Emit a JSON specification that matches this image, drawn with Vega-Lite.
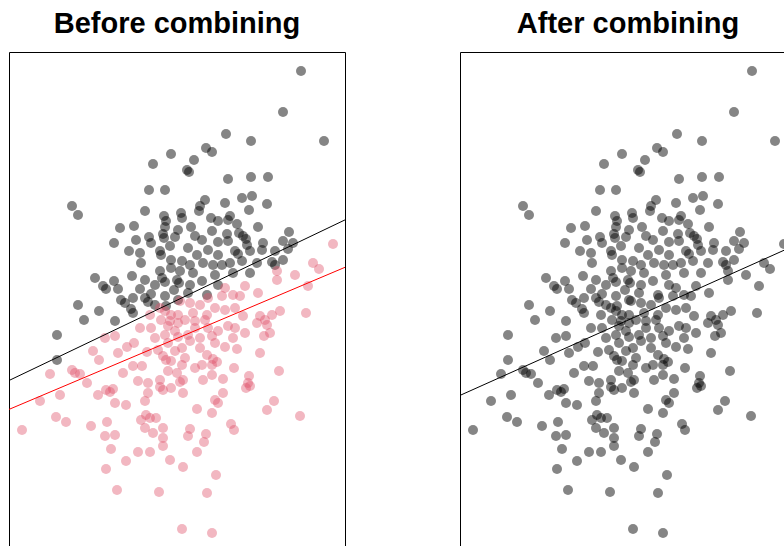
{
  "$schema": "https://vega.github.io/schema/vega-lite/v6.json",
  "padding": {"left": 8, "top": 9, "right": 0, "bottom": 0},
  "spacing": 113,
  "config": {
    "view": {"stroke": "#000000", "strokeWidth": 1},
    "title": {"font": "Liberation Sans", "fontSize": 29, "fontWeight": "bold", "color": "#000000", "offset": 13, "anchor": "middle"}
  },
  "datasets": {
    "points": [
      {"group":"A","x":12.4,"y":23.2},{"group":"A","x":10.6,"y":19.1},{"group":"A","x":4.9,"y":16.9},{"group":"A","x":7.4,"y":16.2},{"group":"A","x":14.7,"y":16.2},
      {"group":"A","x":2.9,"y":15.5},{"group":"A","x":3.5,"y":15.1},{"group":"A","x":-0.6,"y":14.9},{"group":"A","x":-2.4,"y":13.9},{"group":"A","x":1.7,"y":14.3},
      {"group":"A","x":1.0,"y":13.3},{"group":"A","x":1.2,"y":13.1},{"group":"A","x":-2.8,"y":11.3},{"group":"A","x":-1.2,"y":11.3},{"group":"A","x":5.1,"y":12.4},
      {"group":"A","x":7.4,"y":12.6},{"group":"A","x":9.1,"y":12.6},{"group":"A","x":-10.5,"y":9.7},{"group":"A","x":-9.9,"y":8.8},{"group":"A","x":-3.2,"y":9.2},
      {"group":"A","x":2.8,"y":10.3},{"group":"A","x":6.5,"y":10.5},{"group":"A","x":7.5,"y":10.7},{"group":"A","x":2.3,"y":9.7},{"group":"A","x":2.2,"y":9.2},
      {"group":"A","x":7.2,"y":9.3},{"group":"A","x":9.0,"y":9.9},{"group":"A","x":0.4,"y":9.0},{"group":"A","x":0.5,"y":8.5},{"group":"A","x":-1.3,"y":8.7},
      {"group":"A","x":-1.1,"y":8.2},{"group":"A","x":-1.2,"y":7.6},{"group":"A","x":-5.7,"y":7.5},{"group":"A","x":-4.3,"y":7.7},{"group":"A","x":3.4,"y":8.5},
      {"group":"A","x":4.1,"y":8.2},{"group":"A","x":5.1,"y":8.3},{"group":"A","x":6.0,"y":7.9},{"group":"A","x":1.4,"y":7.6},{"group":"A","x":8.1,"y":7.6},
      {"group":"A","x":0.1,"y":7.3},{"group":"A","x":3.5,"y":7.2},{"group":"A","x":5.0,"y":6.9},{"group":"A","x":6.2,"y":7.0},{"group":"A","x":6.6,"y":6.7},
      {"group":"A","x":6.9,"y":6.4},{"group":"A","x":1.8,"y":6.7},{"group":"A","x":2.5,"y":6.3},{"group":"A","x":4.1,"y":6.1},{"group":"A","x":5.1,"y":6.2},
      {"group":"A","x":7.0,"y":5.8},{"group":"A","x":8.6,"y":6.0},{"group":"A","x":10.6,"y":6.2},{"group":"A","x":11.2,"y":7.1},{"group":"A","x":11.6,"y":6.0},
      {"group":"A","x":1.1,"y":5.5},{"group":"A","x":3.1,"y":5.3},{"group":"A","x":-1.4,"y":6.9},{"group":"A","x":-1.3,"y":6.5},{"group":"A","x":-0.2,"y":6.6},
      {"group":"A","x":-6.3,"y":6.0},{"group":"A","x":-4.1,"y":6.3},{"group":"A","x":-2.8,"y":6.6},{"group":"A","x":-2.6,"y":6.0},{"group":"A","x":-4.8,"y":5.2},
      {"group":"A","x":-1.7,"y":5.2},{"group":"A","x":-1.6,"y":4.8},{"group":"A","x":-3.6,"y":4.0},{"group":"A","x":-0.6,"y":4.3},{"group":"A","x":-8.2,"y":2.5},
      {"group":"A","x":-7.4,"y":1.7},{"group":"A","x":-7.1,"y":1.4},{"group":"A","x":-6.3,"y":2.2},{"group":"A","x":-5.9,"y":1.4},{"group":"A","x":-4.5,"y":2.7},
      {"group":"A","x":-3.2,"y":2.3},{"group":"A","x":-3.7,"y":1.4},{"group":"A","x":-2.2,"y":1.8},{"group":"A","x":-1.5,"y":2.5},{"group":"A","x":-1.2,"y":2.1},
      {"group":"A","x":-0.6,"y":3.5},{"group":"A","x":-1.7,"y":3.2},{"group":"A","x":-9.9,"y":-0.2},{"group":"A","x":-7.8,"y":-0.8},{"group":"A","x":-9.3,"y":-1.7},
      {"group":"A","x":-6.2,"y":-1.8},{"group":"A","x":-5.6,"y":0.3},{"group":"A","x":-5.2,"y":0.0},{"group":"A","x":-4.6,"y":-0.6},{"group":"A","x":-4.4,"y":-1.0},
      {"group":"A","x":-4.4,"y":0.5},{"group":"A","x":-3.2,"y":0.5},{"group":"A","x":-2.9,"y":0.1},{"group":"A","x":-2.6,"y":0.9},{"group":"A","x":-1.2,"y":0.7},
      {"group":"A","x":-2.2,"y":-0.2},{"group":"A","x":-1.1,"y":-0.3},{"group":"A","x":-12.0,"y":-3.2},{"group":"A","x":-12.0,"y":-5.7},{"group":"A","x":0.0,"y":2.3},
      {"group":"A","x":0.2,"y":2.0},{"group":"A","x":-0.3,"y":1.3},{"group":"A","x":2.0,"y":4.8},{"group":"A","x":4.1,"y":4.8},{"group":"A","x":5.8,"y":5.2},
      {"group":"A","x":6.1,"y":4.9},{"group":"A","x":7.3,"y":5.2},{"group":"A","x":8.5,"y":5.3},{"group":"A","x":9.8,"y":5.2},{"group":"A","x":0.5,"y":4.2},
      {"group":"A","x":2.6,"y":4.0},{"group":"A","x":3.6,"y":3.8},{"group":"A","x":5.3,"y":4.0},{"group":"A","x":6.5,"y":4.2},{"group":"A","x":9.5,"y":4.1},
      {"group":"A","x":9.8,"y":3.8},{"group":"A","x":10.6,"y":4.3},{"group":"A","x":0.3,"y":3.2},{"group":"A","x":1.6,"y":3.0},{"group":"A","x":3.8,"y":2.8},
      {"group":"A","x":5.6,"y":3.0},{"group":"A","x":1.3,"y":1.8},{"group":"A","x":2.5,"y":2.2},{"group":"A","x":4.1,"y":1.8},{"group":"A","x":1.1,"y":1.0},
      {"group":"A","x":3.0,"y":0.8},{"group":"A","x":0.1,"y":0.3},{"group":"A","x":11.1,"y":5.4},{"group":"A","x":8.0,"y":4.0},{"group":"A","x":5.3,"y":8.7},
      {"group":"A","x":4.8,"y":10.0},{"group":"A","x":-0.7,"y":5.7},{"group":"A","x":-3.7,"y":5.0},{"group":"A","x":1.3,"y":3.8},{"group":"A","x":4.5,"y":3.8},
      {"group":"A","x":7.3,"y":3.0},

      {"group":"B","x":15.6,"y":5.9},{"group":"B","x":13.6,"y":4.0},{"group":"B","x":14.2,"y":3.4},{"group":"B","x":11.8,"y":2.8},{"group":"B","x":10.0,"y":3.2},
      {"group":"B","x":10.0,"y":2.3},{"group":"B","x":13.1,"y":1.7},{"group":"B","x":4.8,"y":1.5},{"group":"B","x":6.8,"y":1.7},{"group":"B","x":5.6,"y":0.8},
      {"group":"B","x":4.5,"y":0.7},{"group":"B","x":6.3,"y":0.7},{"group":"B","x":3.1,"y":0.5},{"group":"B","x":8.1,"y":1.0},{"group":"B","x":3.8,"y":-0.5},
      {"group":"B","x":4.8,"y":-0.7},{"group":"B","x":5.8,"y":-0.5},{"group":"B","x":2.3,"y":-0.2},{"group":"B","x":1.6,"y":-1.0},{"group":"B","x":3.0,"y":-1.2},
      {"group":"B","x":6.6,"y":-1.3},{"group":"B","x":8.3,"y":-1.3},{"group":"B","x":8.8,"y":-1.7},{"group":"B","x":9.5,"y":-1.2},{"group":"B","x":10.3,"y":-0.8},
      {"group":"B","x":12.9,"y":-1.0},{"group":"B","x":8.0,"y":-2.0},{"group":"B","x":9.0,"y":-2.2},{"group":"B","x":0.3,"y":0.2},{"group":"B","x":0.1,"y":-1.2},
      {"group":"B","x":0.8,"y":-1.7},{"group":"B","x":2.8,"y":-1.7},{"group":"B","x":1.8,"y":-2.5},{"group":"B","x":3.1,"y":-2.5},{"group":"B","x":5.1,"y":-2.3},
      {"group":"B","x":5.8,"y":-2.5},{"group":"B","x":4.1,"y":-2.8},{"group":"B","x":0.1,"y":-3.4},{"group":"B","x":1.1,"y":-3.2},{"group":"B","x":3.5,"y":-3.3},
      {"group":"B","x":5.6,"y":-3.5},{"group":"B","x":0.5,"y":-4.5},{"group":"B","x":2.3,"y":-4.5},{"group":"B","x":4.8,"y":-4.4},{"group":"B","x":6.0,"y":-4.6},
      {"group":"B","x":8.3,"y":-5.0},{"group":"B","x":8.7,"y":-3.3},{"group":"B","x":9.3,"y":-3.0},
      {"group":"B","x":-6.2,"y":-3.3},{"group":"B","x":-7.2,"y":-3.5},{"group":"B","x":-2.6,"y":-2.5},{"group":"B","x":-1.6,"y":-1.7},{"group":"B","x":-0.6,"y":-1.2},
      {"group":"B","x":-2.2,"y":-3.5},{"group":"B","x":-1.2,"y":-3.2},{"group":"B","x":-0.2,"y":-2.8},{"group":"B","x":-0.9,"y":-4.0},{"group":"B","x":-0.9,"y":-2.3},
      {"group":"B","x":0.1,"y":-2.0},{"group":"B","x":-4.3,"y":-4.0},{"group":"B","x":-5.0,"y":-4.4},{"group":"B","x":-3.0,"y":-4.9},{"group":"B","x":-1.9,"y":-4.7},
      {"group":"B","x":-8.4,"y":-4.8},{"group":"B","x":-7.8,"y":-5.7},{"group":"B","x":-5.9,"y":-5.0},{"group":"B","x":-4.4,"y":-6.3},{"group":"B","x":-3.5,"y":-6.3},
      {"group":"B","x":-1.4,"y":-5.3},{"group":"B","x":-1.1,"y":-5.7},{"group":"B","x":-0.6,"y":-5.8},{"group":"B","x":-0.2,"y":-4.8},{"group":"B","x":-5.4,"y":-7.0},
      {"group":"B","x":-3.9,"y":-7.8},{"group":"B","x":-2.9,"y":-8.0},{"group":"B","x":-1.7,"y":-7.7},{"group":"B","x":-0.9,"y":-6.8},{"group":"B","x":-1.7,"y":-8.4},
      {"group":"B","x":-1.4,"y":-8.7},{"group":"B","x":-0.6,"y":-8.5},{"group":"B","x":0.3,"y":-7.9},{"group":"B","x":0.6,"y":-7.7},{"group":"B","x":-12.7,"y":-7.1},
      {"group":"B","x":-10.5,"y":-6.7},{"group":"B","x":-10.2,"y":-7.0},{"group":"B","x":-9.7,"y":-7.1},{"group":"B","x":-9.0,"y":-8.0},{"group":"B","x":-7.1,"y":-8.7},
      {"group":"B","x":-6.7,"y":-8.9},{"group":"B","x":-7.9,"y":-9.2},{"group":"B","x":-6.4,"y":-8.6},{"group":"B","x":-11.7,"y":-9.2},{"group":"B","x":-13.7,"y":-9.8},
      {"group":"B","x":-6.2,"y":-10.0},{"group":"B","x":-5.1,"y":-10.2},{"group":"B","x":-3.2,"y":-9.8},{"group":"B","x":-2.9,"y":-9.0},{"group":"B","x":-12.1,"y":-11.4},
      {"group":"B","x":-11.1,"y":-11.9},{"group":"B","x":-8.6,"y":-12.3},{"group":"B","x":-7.0,"y":-11.9},{"group":"B","x":-3.1,"y":-11.2},{"group":"B","x":-2.7,"y":-11.5},
      {"group":"B","x":-3.6,"y":-11.7},{"group":"B","x":-2.1,"y":-11.5},{"group":"B","x":-3.2,"y":-12.5},{"group":"B","x":-1.4,"y":-12.5},{"group":"B","x":-2.4,"y":-13.0},
      {"group":"B","x":-15.5,"y":-12.7},{"group":"B","x":-7.2,"y":-13.3},{"group":"B","x":-6.2,"y":-13.2},{"group":"B","x":-1.4,"y":-13.5},{"group":"B","x":-1.4,"y":-14.3},
      {"group":"B","x":-6.6,"y":-14.6},{"group":"B","x":-3.9,"y":-14.9},{"group":"B","x":-2.7,"y":-14.9},
      {"group":"B","x":3.0,"y":-5.2},{"group":"B","x":3.6,"y":-5.6},{"group":"B","x":4.0,"y":-5.9},{"group":"B","x":2.5,"y":-6.2},{"group":"B","x":3.5,"y":-6.2},
      {"group":"B","x":0.5,"y":-6.2},{"group":"B","x":0.0,"y":-7.0},{"group":"B","x":2.6,"y":-7.7},{"group":"B","x":3.5,"y":-7.2},{"group":"B","x":4.6,"y":-7.6},
      {"group":"B","x":5.7,"y":-6.5},{"group":"B","x":7.2,"y":-7.3},{"group":"B","x":7.1,"y":-8.0},{"group":"B","x":7.3,"y":-8.3},{"group":"B","x":6.9,"y":-8.5},
      {"group":"B","x":10.2,"y":-6.8},{"group":"B","x":0.6,"y":-9.0},{"group":"B","x":4.6,"y":-9.0},{"group":"B","x":3.8,"y":-9.7},{"group":"B","x":4.1,"y":-10.0},
      {"group":"B","x":9.7,"y":-9.8},{"group":"B","x":9.0,"y":-10.7},{"group":"B","x":12.3,"y":-11.3},{"group":"B","x":2.0,"y":-10.6},{"group":"B","x":3.5,"y":-11.0},
      {"group":"B","x":5.4,"y":-12.1},{"group":"B","x":5.7,"y":-12.7},{"group":"B","x":1.3,"y":-12.6},{"group":"B","x":1.1,"y":-13.3},{"group":"B","x":2.9,"y":-13.1},
      {"group":"B","x":2.7,"y":-13.9},{"group":"B","x":2.0,"y":-14.9},
      {"group":"B","x":-5.1,"y":-15.8},{"group":"B","x":-0.7,"y":-15.7},{"group":"B","x":-7.1,"y":-16.6},{"group":"B","x":-6.0,"y":-18.7},{"group":"B","x":-1.8,"y":-18.9},
      {"group":"B","x":0.6,"y":-16.4},{"group":"B","x":3.9,"y":-17.2},{"group":"B","x":3.0,"y":-19.0},{"group":"B","x":0.5,"y":-22.6},{"group":"B","x":3.5,"y":-23.0},
      {"group":"B","x":1.3,"y":0.0},{"group":"B","x":-1.2,"y":-0.8},{"group":"B","x":1.8,"y":-1.8},
      {"group":"B","x":-0.7,"y":-1.8},{"group":"B","x":1.3,"y":-3.8},{"group":"B","x":3.8,"y":-4.0},{"group":"B","x":-1.7,"y":-0.5},{"group":"B","x":-2.7,"y":-1.2},
      {"group":"B","x":-3.7,"y":-2.5},{"group":"B","x":2.3,"y":-3.5},{"group":"B","x":6.8,"y":-3.0},{"group":"B","x":0.8,"y":-5.5},{"group":"B","x":1.8,"y":-6.5}
    ],
    "fits": [
      {"fit":"A","x":-16.8,"y":-7.75},{"fit":"A","x":16.8,"y":8.31},
      {"fit":"B","x":-16.8,"y":-10.64},{"fit":"B","x":16.8,"y":3.57},
      {"fit":"pooled","x":-16.8,"y":-9.24},{"fit":"pooled","x":16.8,"y":5.81}
    ]
  },
  "hconcat": [
    {
      "title": "Before combining",
      "width": 336,
      "height": 501,
      "layer": [
        {
          "data": {"name": "points"},
          "mark": {"type": "point", "shape": "circle", "filled": true, "size": 100, "strokeWidth": 0, "opacity": 1, "clip": true},
          "encoding": {
            "x": {"field": "x", "type": "quantitative", "scale": {"domain": [-16.8, 16.8], "nice": false, "zero": false}, "axis": null},
            "y": {"field": "y", "type": "quantitative", "scale": {"domain": [-25.0, 25.1], "nice": false, "zero": false}, "axis": null},
            "color": {"field": "group", "type": "nominal", "scale": {"domain": ["A", "B"], "range": ["rgba(0,0,0,0.48)", "rgba(223,83,107,0.42)"]}, "legend": null}
          }
        },
        {
          "data": {"name": "fits"},
          "transform": [{"filter": "datum.fit !== 'pooled'"}],
          "mark": {"type": "line", "strokeWidth": 1, "clip": true},
          "encoding": {
            "x": {"field": "x", "type": "quantitative"},
            "y": {"field": "y", "type": "quantitative"},
            "stroke": {"field": "fit", "type": "nominal", "scale": {"domain": ["A", "B"], "range": ["#000000", "#FF0000"]}, "legend": null}
          }
        }
      ]
    },
    {
      "title": "After combining",
      "width": 336,
      "height": 501,
      "layer": [
        {
          "data": {"name": "points"},
          "mark": {"type": "point", "shape": "circle", "filled": true, "size": 100, "strokeWidth": 0, "opacity": 1, "color": "rgba(0,0,0,0.48)", "clip": true},
          "encoding": {
            "x": {"field": "x", "type": "quantitative", "scale": {"domain": [-16.8, 16.8], "nice": false, "zero": false}, "axis": null},
            "y": {"field": "y", "type": "quantitative", "scale": {"domain": [-25.0, 25.1], "nice": false, "zero": false}, "axis": null}
          }
        },
        {
          "data": {"name": "fits"},
          "transform": [{"filter": "datum.fit === 'pooled'"}],
          "mark": {"type": "line", "strokeWidth": 1, "color": "#000000", "clip": true},
          "encoding": {
            "x": {"field": "x", "type": "quantitative"},
            "y": {"field": "y", "type": "quantitative"}
          }
        }
      ]
    }
  ]
}
